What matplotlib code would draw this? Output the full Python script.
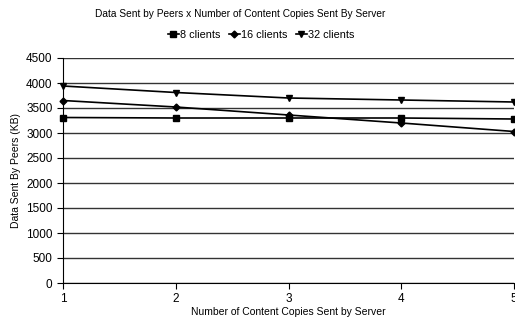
import matplotlib
matplotlib.use("Agg")
import matplotlib.pyplot as plt

plt.rcParams["font.family"] = "Liberation Sans"

copies = [1, 2, 3, 4, 5]
clients8 = [3310, 3300, 3300, 3300, 3280]
clients16 = [3650, 3520, 3360, 3200, 3030]
clients32 = [3940, 3810, 3700, 3660, 3620]

fig = plt.figure(figsize=(5.15, 3.21), dpi=100)
ax = fig.add_axes([63 / 515, 1 - 283 / 321, (514 - 63) / 515, (283 - 58) / 321])

ax.plot(copies, clients8, color="black", lw=1.2, marker="s", ms=5, label="8 clients", clip_on=False)
ax.plot(copies, clients16, color="black", lw=1.2, marker="D", ms=3.5, label="16 clients", clip_on=False)
ax.plot(copies, clients32, color="black", lw=1.2, marker="v", ms=5, label="32 clients", clip_on=False)

ax.set_xlim(1, 5)
ax.set_ylim(0, 4500)
ax.set_yticks(range(0, 4501, 500))
ax.set_xticks(copies)
ax.yaxis.grid(True, color="#333333", lw=1)
ax.set_axisbelow(True)
for s in ["top", "right"]:
    ax.spines[s].set_visible(False)
ax.tick_params(labelsize=8.5, length=4, direction="out", color="black")

ax.set_xlabel("Number of Content Copies Sent by Server", fontsize=7.5, labelpad=1)
ax.set_ylabel("Data Sent By Peers (KB)", fontsize=7.5)

fig.text(0.466, 0.956, "Data Sent by Peers x Number of Content Copies Sent By Server",
         fontsize=7.3, ha="center", va="center")
fig.legend(loc="center", bbox_to_anchor=(0.507, 0.891), ncol=3, frameon=False, fontsize=7.8,
           handlelength=1.0, handletextpad=0.1, columnspacing=0.8)

plt.savefig("out.png", dpi=100)
